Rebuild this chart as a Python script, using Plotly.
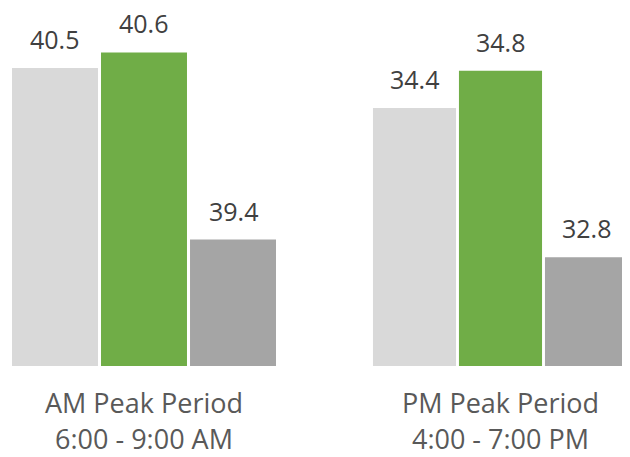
import plotly.graph_objects as go
from plotly.subplots import make_subplots

# Data
series = ["Series 1", "Series 2", "Series 3"]
am_values = [40.5, 40.6, 39.4]
pm_values = [34.4, 34.8, 32.8]
group_labels = ["AM Peak Period<br>6:00 - 9:00 AM", "PM Peak Period<br>4:00 - 7:00 PM"]
colors = ["#D9D9D9", "#70AD47", "#A5A5A5"]

VALUE_COLOR = "#404040"
LABEL_COLOR = "#595959"
FONT = "Open Sans"

fig = make_subplots(rows=1, cols=2)

for col, values in enumerate([am_values, pm_values], start=1):
    fig.add_trace(
        go.Bar(
            x=series,
            y=values,
            marker=dict(color=colors, line=dict(width=0)),
            showlegend=False,
            hoverinfo="y",
        ),
        row=1,
        col=col,
    )
    # value labels above each bar
    for name, v in zip(series, values):
        fig.add_annotation(
            x=name,
            y=v,
            xref="x" if col == 1 else "x2",
            yref="y" if col == 1 else "y2",
            text=f"{v:.1f}",
            showarrow=False,
            yanchor="bottom",
            yshift=11,
            borderpad=0,
            font=dict(size=25, color=VALUE_COLOR, family=FONT),
        )

# x axes: category label shown as the axis title
fig.update_xaxes(
    showticklabels=False,
    showline=False,
    showgrid=False,
    zeroline=False,
    ticks="",
    title_font=dict(size=27, color=LABEL_COLOR, family=FONT),
    title_standoff=28,
)
fig.update_xaxes(title_text=group_labels[0], domain=[0.0040, 0.4333], row=1, col=1)
fig.update_xaxes(title_text=group_labels[1], domain=[0.5844, 0.9992], row=1, col=2)

# y axes: value scale, each period has its own range
fig.update_yaxes(visible=False, showgrid=False, zeroline=False)
fig.update_yaxes(range=[38.589, 40.885], row=1, col=1)
fig.update_yaxes(range=[31.632, 35.473], row=1, col=2)

# page body adds an 8px margin, so the figure is a little smaller than the window
fig.update_layout(
    width=622,
    height=449,
    margin=dict(l=0, r=0, t=0, b=91),
    bargap=0.034,
    plot_bgcolor="white",
    paper_bgcolor="white",
    font=dict(family=FONT, color=VALUE_COLOR),
)

fig.write_html("out.html")
